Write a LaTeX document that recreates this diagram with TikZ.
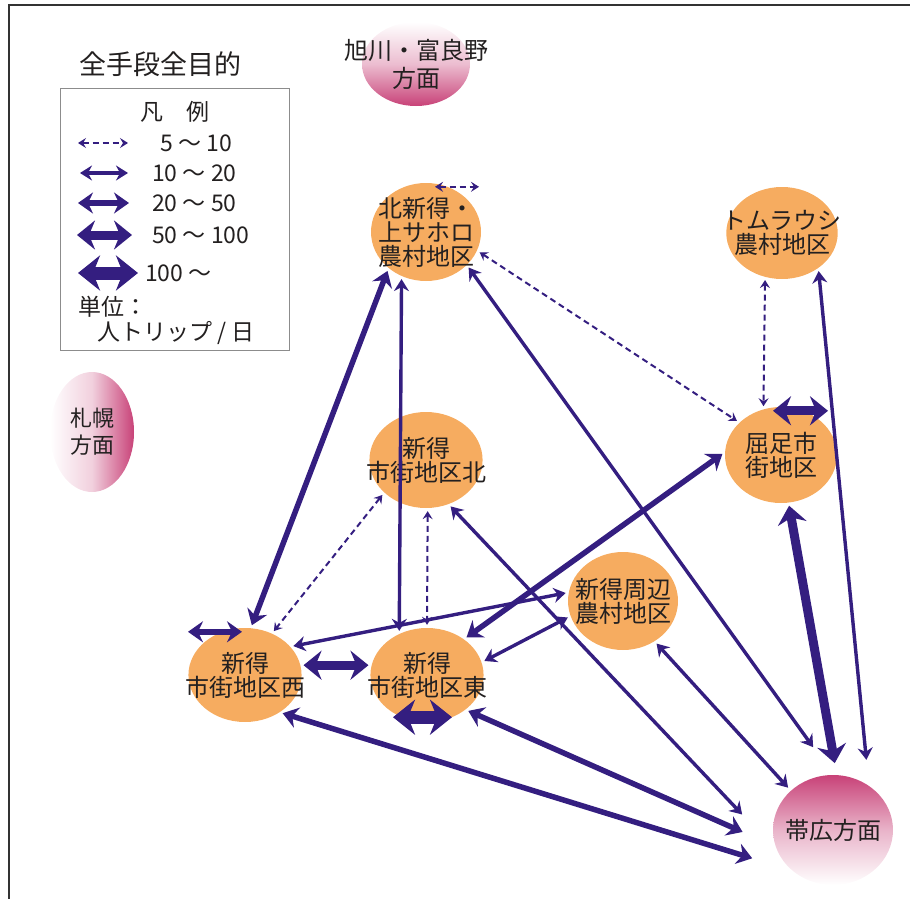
\documentclass[tikz,border=0pt]{standalone}
\usepackage{fontspec}
\setmainfont{Noto Sans CJK JP}
\usetikzlibrary{arrows.meta,shapes.geometric}
\definecolor{zoneorange}{RGB}{246,172,96}
\definecolor{flowpurple}{RGB}{52,30,128}
\definecolor{areapink}{RGB}{200,66,120}
\definecolor{inkgray}{RGB}{35,32,32}
\tikzset{
	tipD/.tip={Stealth[length=8pt,width=10pt,inset=3pt]},
	tipB/.tip={Stealth[length=12pt,width=15pt,inset=4pt]},
	tipC/.tip={Stealth[length=15pt,width=21pt,inset=5pt]},
	tipE/.tip={Stealth[length=18pt,width=29pt,inset=6pt]},
	tipF/.tip={Stealth[length=22pt,width=35pt,inset=7pt]},
	flowD/.style={draw=flowpurple, line width=2pt, dash pattern=on 6pt off 4pt, tipD-tipD},
	flowB/.style={draw=flowpurple, line width=3.4pt, tipB-tipB},
	flowC/.style={draw=flowpurple, line width=5.5pt, tipC-tipC},
	flowE/.style={draw=flowpurple, line width=9pt, tipE-tipE},
	flowF/.style={draw=flowpurple, line width=13pt, tipF-tipF},
	gap/.style={shorten <=3pt, shorten >=3pt},
	zone/.style={ellipse, fill=zoneorange, minimum width=110pt, minimum height=98pt, inner xsep=-20pt, inner ysep=-12pt, align=center, text=inkgray, font=\fontsize{24}{24}\selectfont},
	area/.style={ellipse, inner xsep=-40pt, inner ysep=-10pt, align=center, text=inkgray, font=\fontsize{24}{28}\selectfont},
	legend/.style={inner sep=0pt, text=inkgray, font=\fontsize{23}{24}\selectfont}
}
\begin{document}
\begin{tikzpicture}[x=1pt,y=-1pt]
		%%%%% START %%%%%
		\useasboundingbox (0,0) rectangle (910,899);
		\draw[line width=1.6pt, black!80] (9,899) -- (9,5) -- (910,5);
		
		% outer areas
		\node[area, minimum width=108pt, minimum height=84pt, top color=white, bottom color=areapink, middle color=areapink!35] (asa) at (416,64) {旭川・富良野\\方面};
		\node[area, minimum width=84pt, minimum height=120pt, left color=white, right color=areapink, middle color=areapink!25, font=\fontsize{22}{27}\selectfont] (sap) at (92,432) {札幌\\方面};
		\node[area, minimum width=120pt, minimum height=110pt, top color=areapink, bottom color=white, middle color=areapink!40] (obi) at (833,830) {帯広方面};
		
		% title and legend
		\node[font=\fontsize{27}{27}\selectfont, text=inkgray] (title) at (160,64) {全手段全目的};
		\draw[black!45, line width=0.8pt] (60,88) rectangle (289,350);
		\node[legend] (lghead) at (175,112) {凡　例};
		\node[legend, anchor=west] (lg1) at (160,143) {5 〜 10};
		\node[legend, anchor=west] (lg2) at (152,173) {10 〜 20};
		\node[legend, anchor=west] (lg3) at (152,203) {20 〜 50};
		\node[legend, anchor=west] (lg4) at (152,235) {50 〜 100};
		\node[legend, anchor=west] (lg5) at (145,273) {100 〜};
		\node[legend, anchor=west] (lgunit) at (78,307) {単位：};
		\node[legend, anchor=west] (lgper) at (97,333) {人トリップ / 日};
		\draw[flowD] ([xshift=-82pt]lg1.west) -- ([xshift=-32pt]lg1.west);
		\draw[flowB] ([xshift=-72pt]lg2.west) -- ([xshift=-24pt]lg2.west);
		\draw[flowC] ([xshift=-74pt]lg3.west) -- ([xshift=-23pt]lg3.west);
		\draw[flowE] ([xshift=-75pt]lg4.west) -- ([xshift=-20pt]lg4.west);
		\draw[flowF] ([xshift=-67pt]lg5.west) -- ([xshift=-7pt]lg5.west);
		
		% zones
		\node[zone] (kita) at (426,232) {北新得・\\上サホロ\\農村地区};
		\node[zone, minimum height=92pt] (tomu) at (782,233) {トムラウシ\\農村地区};
		\node[zone, minimum height=96pt] (kitan) at (426,460) {新得\\市街地区北};
		\node[zone, minimum width=112pt, minimum height=96pt] (kuta) at (781,455) {屈足市\\街地区};
		\node[zone] (shuhen) at (623,601) {新得周辺\\農村地区};
		\node[zone, minimum height=94pt] (nishi) at (245,675) {新得\\市街地区西};
		\node[zone, minimum width=112pt, minimum height=94pt] (higashi) at (427,675) {新得\\市街地区東};
		
		% flows inside a zone
		\draw[flowD] ([xshift=9pt,yshift=-4pt]kita.north) -- ++(44,0);
		\draw[flowE] ([xshift=-8pt,yshift=-4pt]kuta.north) -- ++(55,0);
		\draw[flowC] ([xshift=-57pt,yshift=-4pt]nishi.north) -- ++(54,0);
		\draw[flowF] ([xshift=-34pt,yshift=5pt]higashi.south) -- ++(59,0);
		
		% flows between zones
		\draw[flowD, gap] (kita.340) -- (kuta.142);
		\draw[flowD, gap] (tomu.249) -- (kuta.111);
		\draw[flowD, gap] (kitan.218) -- (nishi.57);
		\draw[flowD, gap] (kitan.272) -- (higashi.90);
		
		\draw[flowB, gap] (kita.241) -- (higashi.124);
		\draw[flowB, gap] (nishi.32) -- (shuhen.171);
		\draw[flowB, gap] (higashi.13) -- (shuhen.196);
		\draw[flowC, gap] (kita.224) -- (nishi.83);
		\draw[flowC, gap] (kuta.177) -- (higashi.44);
		\draw[flowE, gap] (nishi.10) -- (higashi.170);
		
		% flows to obihiro
		\draw[flowB, gap, shorten >=34pt] (kita.321) -- (obi.90);
		\draw[flowB, gap, shorten >=26pt] (tomu.316) -- (obi.51);
		\draw[flowB, gap, shorten >=52pt] (kitan.297) -- (obi.202);
		\draw[flowB, gap, shorten >=4pt] (shuhen.308) -- (obi.137);
		\draw[flowE, gap, shorten >=12pt] (kuta.279) -- (obi.86);
		\draw[flowC, gap, shorten >=36pt] (higashi.318) -- (obi.196);
		\draw[flowC, gap, shorten >=42pt] (nishi.313) -- (obi.225);
		
		%%%%% END %%%%%
\end{tikzpicture}
\end{document}
